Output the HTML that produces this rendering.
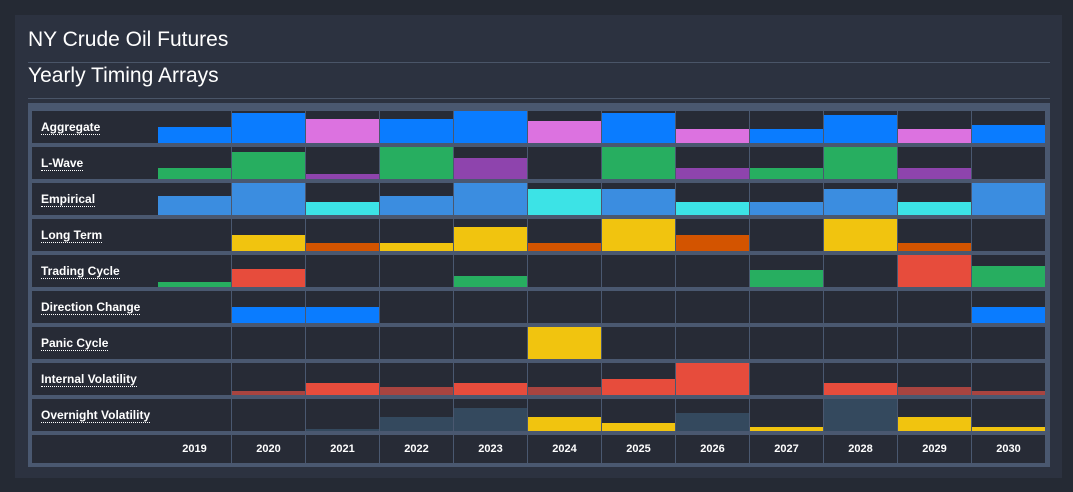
<!DOCTYPE html>
<html><head><meta charset="utf-8"><style>
body{margin:0;width:1073px;height:492px;background:#252a34;font-family:"Liberation Sans",sans-serif;overflow:hidden;position:relative}
#panel{position:absolute;left:15px;top:15px;width:1047px;height:463px;background:#2c3240}
.t{position:absolute;left:13px;color:#fff;font-size:21px}
.hr{position:absolute;left:13px;width:1022px;height:1px;background:#4a5568}
#grid{position:absolute;left:28px;top:103px;width:1022px;height:364px;background:#4a5870}
.cell{position:absolute;background:#272b36;overflow:hidden}
.lbl{position:absolute;left:9px;top:9px;color:#fff;font-size:12px;font-weight:bold;border-bottom:1px dotted #fff;line-height:14px}
.bar{position:absolute;bottom:0;left:0;right:0}
.yr{color:#fff;font-size:11px;font-weight:bold;text-align:center;line-height:28px}
</style></head><body>
<div id="panel">
<div class="t" style="top:13px">NY Crude Oil Futures</div>
<div class="hr" style="top:47px"></div>
<div class="t" style="top:49px">Yearly Timing Arrays</div>
<div class="hr" style="top:83px"></div>
</div>
<div id="grid"></div>
<script>
const years=[2019,2020,2021,2022,2023,2024,2025,2026,2027,2028,2029,2030];
const rowNames=["Aggregate","L-Wave","Empirical","Long Term","Trading Cycle","Direction Change","Panic Cycle","Internal Volatility","Overnight Volatility"];
const aggregateVals=[50,94,75,75,100,69,94,44,44,88,44,56];
const aggregateCols=["b","b","p","b","b","p","b","p","b","b","p","b"];
const lwaveVals=[34,84,16,100,66,0,100,34,34,100,34,0];
const lwaveCols=["g","g","v","g","v","g","g","v","g","g","v","g"];
const empiricalVals=[59,100,41,59,100,81,81,41,41,81,41,100];
const empiricalCols=["lb","lb","c","lb","lb","c","lb","c","lb","lb","c","lb"];
const longTermVals=[0,50,25,25,75,25,100,50,0,100,25,0];
const longTermCols=["y","y","o","y","y","o","y","o","y","y","o","y"];
const tradingVals=[16,56,0,0,34,0,0,0,53,0,100,66];
const tradingCols=["g","r","g","g","g","g","g","g","g","g","r","g"];
const directionVals=[0,50,50,0,0,0,0,0,0,0,0,50];
const directionCols=["b","b","b","b","b","b","b","b","b","b","b","b"];
const panicVals=[0,0,0,0,0,100,0,0,0,0,0,0];
const panicCols=["y","y","y","y","y","y","y","y","y","y","y","y"];
const internalVals=[0,12,38,25,38,25,50,100,0,38,25,12];
const internalCols=["r","dr","r","dr","r","dr","r","r","r","r","dr","dr"];
const overnightVals=[0,0,5,44,72,44,25,56,12,100,44,12];
const overnightCols=["s","s","s","s","s","y","y","s","y","s","y","y"];
const palette={b:"#0a7cff",p:"#dc72e0",g:"#27ae60",v:"#8e44ad",lb:"#3b8de0",c:"#3ce3e6",y:"#f1c40f",o:"#d35400",r:"#e74c3c",dr:"#a84440",s:"#34495e"};
const rowVals=[aggregateVals,lwaveVals,empiricalVals,longTermVals,tradingVals,directionVals,panicVals,internalVals,overnightVals];
const rowCols=[aggregateCols,lwaveCols,empiricalCols,longTermCols,tradingCols,directionCols,panicCols,internalCols,overnightCols];
const g=document.getElementById('grid');
const X0=4,LW=126,CX=130,CW=74,Y0=8,RH=32,RP=36;
function cx(i){return CX+i*CW;}
function cy(r){return Y0+r*RP;}
function mk(x,y,w,h){const d=document.createElement('div');d.className='cell';d.style.left=x+'px';d.style.top=y+'px';d.style.width=w+'px';d.style.height=h+'px';g.appendChild(d);return d;}
rowNames.forEach((n,r)=>{
  const lc=mk(X0,cy(r),LW,RH);
  
  
  const l=document.createElement('span');l.className='lbl';l.textContent=n;
  
  
  lc.appendChild(l);
  years.forEach((yv,i)=>{
    const c=mk(cx(i),cy(r),CW-1,RH);
    
    
    const v=rowVals[r][i];
    if(v>0){const b=document.createElement('div');b.className='bar';b.style.height=(v/100*RH)+'px';b.style.background=palette[rowCols[r][i]];
      
      
      c.appendChild(b);}
  });
  // vertical separator line before first column
});
const yRow=cy(9);
const lc=mk(X0,yRow,LW,28);


years.forEach((yv,i)=>{
  const c=mk(cx(i),yRow,CW-1,28);c.classList.add('yr');c.textContent=yv;
  
  
});
</script>
</body></html>
